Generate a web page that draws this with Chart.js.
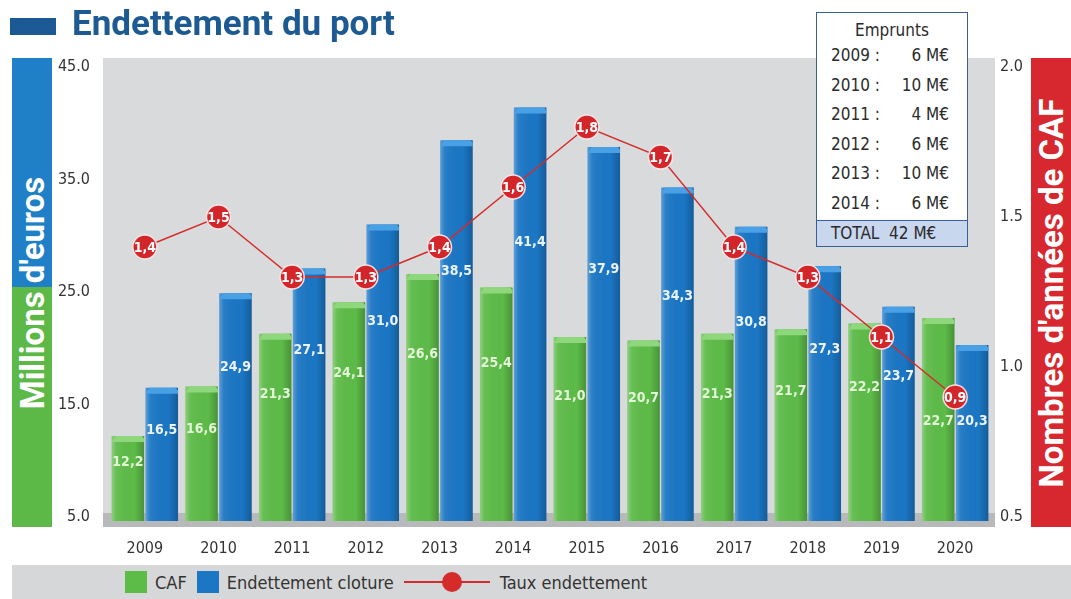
<!DOCTYPE html>
<html lang="fr">
<head>
<meta charset="utf-8">
<title>Endettement du port</title>
<script src="https://cdn.jsdelivr.net/npm/chart.js@4.4.0/dist/chart.umd.min.js"></script>
<style>
  html, body { margin: 0; padding: 0; background: #fff; }
  body { width: 1071px; height: 599px; position: relative; overflow: hidden;
         font-family: 'DejaVu Sans Condensed', 'Liberation Sans Narrow', sans-serif; color: #2b2b2b; }
  #chart { position: absolute; left: 0; top: 0; }
  .title-mark { position: absolute; left: 10px; top: 18px; width: 46px; height: 17px; background: #1b5a95; }
  .title { position: absolute; left: 72px; top: 3px; font: bold 35px Roboto, sans-serif; color: #1d5a92; }
  .band { position: absolute; top: 58px; height: 469px; width: 40px; }
  .band-left { left: 12px; background: linear-gradient(#1f80c8 0 229px, #5cb947 229px); }
  .band-right { left: 1031px; background: #d7272f; }
  .band span { position: absolute; left: 50%; top: 50%; white-space: nowrap; color: #fff;
               transform: translate(-50%, -50%) rotate(-90deg); font: bold 33px Roboto, sans-serif; }
  .legend { position: absolute; left: 12px; top: 565px; width: 1059px; height: 34px; background: #d6d7d8;
            display: flex; align-items: center; font-size: 18px; color: #333; }
  .legend .sw { width: 22px; height: 22px; margin-right: 8px; }
  .legend .item { display: flex; align-items: center; margin-right: 10px; }
  .legend .line { position: relative; width: 86px; height: 2px; background: #d52b2b; margin-right: 10px; }
  .legend .line i { position: absolute; left: 38px; top: -9px; width: 20px; height: 20px; border-radius: 50%; background: #d52b2b; }
  .box { position: absolute; left: 816px; top: 12px; width: 150px; height: 233px; background: #fff;
         border: 1.5px solid #3a5f98; font-size: 17px; }
  .box .head { text-align: center; padding-top: 6px; line-height: 22px; }
  .box .row { display: grid; grid-template-columns: 60px 58px; padding-left: 14px; line-height: 29.6px; }
  .box .row b { font-weight: normal; text-align: right; }
  .box .total { position: absolute; left: 0; right: 0; bottom: 0; height: 25px; line-height: 25px;
                background: #c8d6ee; border-top: 1.5px solid #3a5f98; padding-left: 14px; }
</style>
</head>
<body>
<canvas id="chart" width="1071" height="599"></canvas>
<div class="title-mark"></div>
<div class="title">Endettement du port</div>
<div class="band band-left"><span>Millions d'euros</span></div>
<div class="band band-right"><span>Nombres d'années de CAF</span></div>
<div class="box" id="box"></div>
<div class="legend" id="legend"></div>
<script>
// Données (millions d'euros / nombre d'années)
const years = ['2009', '2010', '2011', '2012', '2013', '2014', '2015', '2016', '2017', '2018', '2019', '2020'];
const caf = [12.2, 16.6, 21.3, 24.1, 26.6, 25.4, 21.0, 20.7, 21.3, 21.7, 22.2, 22.7];
const endettement = [16.5, 24.9, 27.1, 31.0, 38.5, 41.4, 37.9, 34.3, 30.8, 27.3, 23.7, 20.3];
const taux = [1.4, 1.5, 1.3, 1.3, 1.4, 1.6, 1.8, 1.7, 1.4, 1.3, 1.1, 0.9];

const empruntYears = ['2009', '2010', '2011', '2012', '2013', '2014'];
const empruntValues = [6, 10, 4, 6, 10, 6];

const leftTicks = [5, 15, 25, 35, 45];
const rightTicks = [0.5, 1.0, 1.5, 2.0];

const GREEN = '#5dbb48';
const BLUE = '#1b76c4';
const RED = '#d52b2b';
const NARROW = "'DejaVu Sans Condensed', 'Liberation Sans Narrow', sans-serif";

const fr = v => v.toFixed(1).replace('.', ',');

// encadré des emprunts
const box = document.getElementById('box');
let html = '<div class="head">Emprunts</div>';
empruntYears.forEach((y, i) => {
    html += `<div class="row"><span>${y} :</span><b>${empruntValues[i]} M€</b></div>`;
});
html += `<div class="total">TOTAL&nbsp; ${empruntValues.reduce((a, b) => a + b, 0)} M€</div>`;
box.innerHTML = html;

// fond gris + sol sous les barres
const plotBackground = {
    id: 'plotBackground',
    beforeDraw(chart) {
        const { ctx, chartArea: a } = chart;
        ctx.save();
        ctx.fillStyle = '#d9dadb';
        ctx.fillRect(a.left - 5, a.top - 9, a.right - a.left + 8, a.bottom - a.top + 19);
        ctx.fillStyle = '#b8b9bb';
        ctx.fillRect(a.left - 5, a.bottom - 4, a.right - a.left + 8, 14);
        ctx.restore();
    }
};

// relief des barres + valeurs
const barDecor = {
    id: 'barDecor',
    afterDatasetDraw(chart, args) {
        const ds = chart.data.datasets[args.index];
        if (ds.type !== 'bar') return;
        const ctx = chart.ctx;
        const bottom = chart.chartArea.bottom;
        const points = chart.getDatasetMeta(chart.data.datasets.findIndex(d => d.type === 'line')).data;
        ctx.save();
        args.meta.data.forEach((bar, i) => {
            const { x, y, width } = bar.getProps(['x', 'y', 'width'], true);
            const base = bottom + 4;
            const left = x - width / 2;
            const g = ctx.createLinearGradient(left, 0, left + width, 0);
            g.addColorStop(0, 'rgba(255,255,255,0.30)');
            g.addColorStop(0.14, 'rgba(255,255,255,0.06)');
            g.addColorStop(0.7, 'rgba(0,0,0,0)');
            g.addColorStop(1, 'rgba(0,0,0,0.22)');
            ctx.fillStyle = ds.backgroundColor;
            ctx.fillRect(left, bottom, width, 4);
            ctx.fillStyle = g;
            ctx.fillRect(left, y, width, base - y);
            ctx.fillStyle = ds.capColor;
            ctx.beginPath();
            ctx.moveTo(left, y + 6);
            ctx.lineTo(left + 4, y);
            ctx.lineTo(left + width - 2, y);
            ctx.lineTo(left + width, y + 3);
            ctx.lineTo(left + width, y + 6);
            ctx.closePath();
            ctx.fill();

            // valeur, décalée sous le point du taux si elle le chevauche
            let ly = y + (bottom - y) * 0.33;
            const pt = points[i];
            if (pt && Math.abs(pt.x - x) < 30 && Math.abs(pt.y - ly) < 20) ly = pt.y + 24;
            ctx.fillStyle = ds.labelColor;
            ctx.font = 'bold 14px ' + NARROW;
            ctx.textAlign = 'center';
            ctx.textBaseline = 'middle';
            ctx.fillText(fr(ds.data[i]), x, ly);
        });
        ctx.restore();
    },
    afterDatasetsDraw(chart) {
        const idx = chart.data.datasets.findIndex(d => d.type === 'line');
        const meta = chart.getDatasetMeta(idx);
        const ctx = chart.ctx;
        ctx.save();
        ctx.fillStyle = '#fff';
        ctx.font = 'bold 14px ' + NARROW;
        ctx.textAlign = 'center';
        ctx.textBaseline = 'middle';
        meta.data.forEach((pt, i) => ctx.fillText(fr(taux[i]), pt.x, pt.y + 1));
        ctx.restore();
    }
};

const noGrid = { display: false, drawTicks: false };

const chart = new Chart(document.getElementById('chart'), {
    data: {
        labels: years,
        datasets: [
            {
                type: 'line', label: 'Taux endettement', data: taux, yAxisID: 'y1', order: 0,
                borderColor: RED, borderWidth: 1.5,
                pointRadius: 12, pointBackgroundColor: '#d3262b',
                pointBorderColor: 'rgba(255,235,235,0.9)', pointBorderWidth: 1.5
            },
            {
                type: 'bar', label: 'CAF', data: caf, yAxisID: 'y', order: 1,
                backgroundColor: GREEN, capColor: '#8fd77c', labelColor: '#e2f7d6',
                categoryPercentage: 0.92, barPercentage: 0.96
            },
            {
                type: 'bar', label: 'Endettement cloture', data: endettement, yAxisID: 'y', order: 1,
                backgroundColor: BLUE, capColor: '#4aa0e4', labelColor: '#eaf3ff',
                categoryPercentage: 0.92, barPercentage: 0.96
            }
        ]
    },
    options: {
        responsive: false,
        animation: false,
        layout: { padding: { left: 55, right: 41, top: 67, bottom: 40 } },
        plugins: { legend: { display: false }, tooltip: { enabled: false } },
        scales: {
            x: {
                grid: noGrid, border: { display: false },
                ticks: { color: '#333', font: { family: NARROW, size: 16 }, padding: 22 },
                afterFit(s) { s.height = 42; }
            },
            y: {
                position: 'left', min: 5, max: 45,
                grid: noGrid, border: { display: false },
                afterBuildTicks(s) { s.ticks = leftTicks.map(v => ({ value: v })); },
                ticks: { color: '#333', font: { family: NARROW, size: 16 }, padding: 18, callback: v => v.toFixed(1) },
                afterFit(s) { s.width = 53; }
            },
            y1: {
                position: 'right', min: 0.5, max: 2.0,
                grid: noGrid, border: { display: false },
                afterBuildTicks(s) { s.ticks = rightTicks.map(v => ({ value: v })); },
                ticks: { color: '#333', font: { family: NARROW, size: 16 }, padding: 8, callback: v => v.toFixed(1) },
                afterFit(s) { s.width = 38; }
            }
        }
    },
    plugins: [plotBackground, barDecor]
});

// légende en bas
const legend = document.getElementById('legend');
let lg = '<span style="width:113px"></span>';
chart.data.datasets.filter(d => d.type === 'bar').forEach(d => {
    lg += `<div class="item"><div class="sw" style="background:${d.backgroundColor}"></div>${d.label}</div>`;
});
const line = chart.data.datasets.find(d => d.type === 'line');
lg += `<div class="line"><i></i></div><div class="item">${line.label}</div>`;
legend.innerHTML = lg;
</script>
</body>
</html>
